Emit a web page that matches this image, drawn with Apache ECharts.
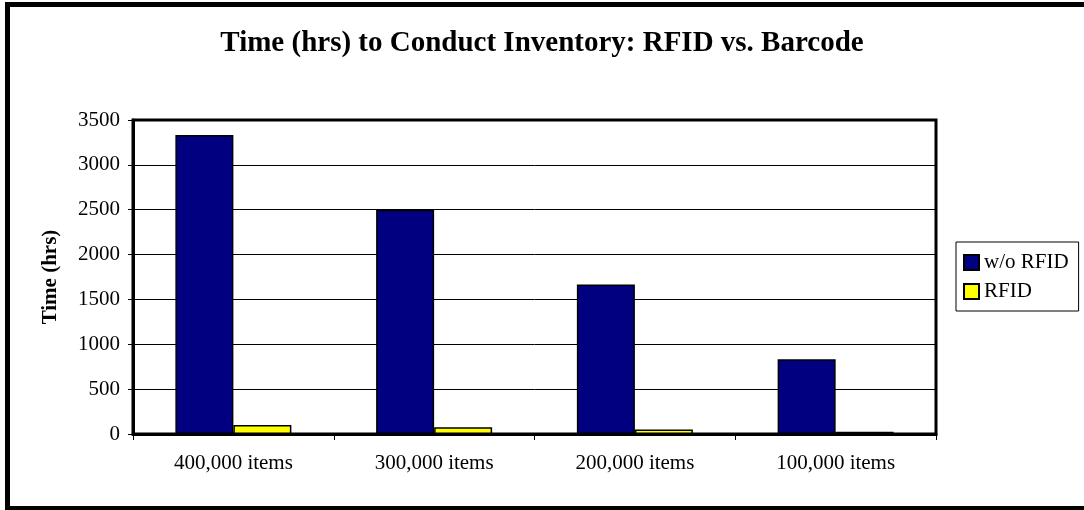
<!DOCTYPE html>
<html>
<head>
<meta charset="utf-8">
<script src="https://cdn.jsdelivr.net/npm/echarts@6/dist/echarts.min.js"></script>
<style>
html, body { margin: 0; padding: 0; background: #fff; }
#chart { width: 1084px; height: 510px; }
</style>
</head>
<body>
<div id="chart"></div>
<script>
var categories = ['400,000 items', '300,000 items', '200,000 items', '100,000 items'];
var withoutRfid = [3333, 2500, 1667, 833];
var withRfid = [100, 75, 50, 25];
var yTicks = { min: 0, max: 3500, interval: 500 };

var font = 'Liberation Serif, Times New Roman, serif';
var myChart = echarts.init(document.getElementById('chart'));
var option = {
	animation: false,
	backgroundColor: '#fff',
	title: {
		text: 'Time (hrs) to Conduct Inventory: RFID vs. Barcode',
		left: 'center',
		top: 24,
		textStyle: { fontFamily: font, fontSize: 29, fontWeight: 'bold', color: '#000' }
	},
	graphic: [{
		type: 'rect',
		shape: { x: 7.5, y: 4.5, width: 1090, height: 504 },
		style: { fill: 'none', stroke: '#000', lineWidth: 5 },
		silent: true
	}],
	legend: {
		orient: 'vertical',
		left: 956,
		top: 242,
		padding: [10, 10, 9, 7],
		itemWidth: 15,
		itemHeight: 15,
		itemGap: 8,
		borderColor: '#000',
		borderWidth: 1,
		icon: 'rect',
		textStyle: { fontFamily: font, fontSize: 21, color: '#000' },
		data: ['w/o RFID', 'RFID']
	},
	grid: {
		left: 133,
		top: 120,
		right: 148,
		bottom: 76,
		show: true,
		borderColor: '#000',
		borderWidth: 3
	},
	xAxis: {
		type: 'category',
		data: categories,
		axisLine: { lineStyle: { color: '#000', width: 3 } },
		axisTick: { show: true, length: 6, lineStyle: { color: '#000', width: 1 } },
		axisLabel: { fontFamily: font, fontSize: 21, color: '#000', margin: 19 }
	},
	yAxis: {
		type: 'value',
		min: yTicks.min,
		max: yTicks.max,
		interval: yTicks.interval,
		name: 'Time (hrs)',
		nameLocation: 'middle',
		nameGap: 72,
		nameTextStyle: { fontFamily: font, fontSize: 21, fontWeight: 'bold', color: '#000' },
		axisLine: { show: true, lineStyle: { color: '#000', width: 3 } },
		axisTick: { show: true, length: 5, lineStyle: { color: '#000', width: 1 } },
		axisLabel: { fontFamily: font, fontSize: 21, color: '#000', margin: 13, formatter: function (v) { return String(v); } },
		splitLine: { lineStyle: { color: '#000', width: 1 } }
	},
	series: [{
		name: 'w/o RFID',
		type: 'bar',
		barWidth: 58,
		barGap: '0%',
		itemStyle: { color: '#000080', borderColor: '#000', borderWidth: 1.5 },
		data: withoutRfid
	}, {
		name: 'RFID',
		type: 'bar',
		barWidth: 58,
		barGap: '0%',
		itemStyle: { color: '#FFFF00', borderColor: '#000', borderWidth: 1.5 },
		data: withRfid
	}]
};
myChart.setOption(option);
</script>
</body>
</html>
